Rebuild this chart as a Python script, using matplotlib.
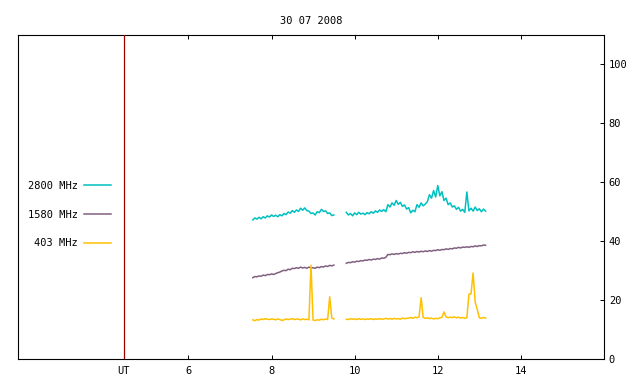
import numpy as np
import matplotlib
matplotlib.use("Agg")
import matplotlib.pyplot as plt

# =========================================================
# DATA
# =========================================================

title = "30 07 2008"
x_ticks = [6, 8, 10, 12, 14]
y_ticks = [0, 20, 40, 60, 80, 100]
ut_hour = 4.44

seg1_start, seg1_end = 7.55, 9.50
seg2_start, seg2_end = 9.80, 13.15

f2800_seg1 = [47.2, 47.9, 47.5, 48.1, 47.6, 48.3, 47.9, 48.6, 48.2, 48.9,
              48.4, 48.8, 48.3, 49.0, 48.6, 49.4, 49.0, 49.9, 49.5, 50.4,
              49.8, 50.6, 50.1, 51.2, 50.5, 51.3, 50.4, 50.2, 49.4, 49.6,
              48.9, 50.0, 49.7, 50.8, 50.1, 50.3, 49.4, 49.6, 48.7, 48.9]
f2800_seg2 = [49.8, 48.9, 49.4, 48.6, 49.6, 49.0, 49.8, 49.2, 49.5, 49.0,
              49.7, 49.3, 50.0, 49.5, 50.3, 49.8, 50.6, 50.1, 50.7, 50.0,
              52.4, 51.6, 53.0, 52.2, 53.8, 52.5, 53.2, 51.8, 52.3, 50.9,
              51.4, 49.6, 50.5, 50.0, 52.4, 51.5, 53.0, 52.0, 52.6, 53.4,
              55.8, 54.6, 57.2, 55.0, 58.9, 55.4, 56.8, 53.8, 54.6, 52.4,
              53.0, 51.6, 52.0, 50.8, 51.5, 50.2, 50.8, 49.8, 56.7, 50.3,
              51.2, 50.2, 51.6, 50.4, 51.0, 50.0, 50.9, 50.2]

f1580_seg1 = [27.6, 28.0, 27.9, 28.2, 28.1, 28.5, 28.3, 28.7, 28.6, 28.9,
              28.7, 29.0, 29.3, 29.5, 29.9, 30.1, 30.0, 30.5, 30.3, 30.8,
              30.7, 31.0, 30.8, 31.2, 30.9, 31.1, 30.8, 31.2, 30.9, 31.0,
              30.8, 31.2, 31.0, 31.4, 31.2, 31.6, 31.4, 31.8, 31.6, 31.9]
f1580_seg2 = [32.5, 32.8, 32.7, 33.0, 32.9, 33.2, 33.1, 33.4, 33.3, 33.6,
              33.5, 33.8, 33.6, 33.9, 33.8, 34.1, 33.9, 34.3, 34.2, 34.5,
              35.5, 35.4, 35.7, 35.5, 35.8, 35.6, 35.9, 35.8, 36.1, 35.9,
              36.2, 36.1, 36.4, 36.2, 36.5, 36.3, 36.6, 36.4, 36.7, 36.5,
              36.8, 36.6, 36.9, 36.8, 37.1, 36.9, 37.2, 37.1, 37.4, 37.2,
              37.5, 37.4, 37.7, 37.6, 37.9, 37.7, 38.0, 37.9, 38.1, 37.9,
              38.2, 38.1, 38.4, 38.2, 38.5, 38.4, 38.7, 38.6]

f403_seg1 = [13.3, 13.0, 13.4, 13.2, 13.6, 13.4, 13.7, 13.5, 13.4, 13.6,
             13.5, 13.3, 13.6, 13.4, 13.1, 13.3, 13.6, 13.4, 13.5, 13.7,
             13.4, 13.6, 13.5, 13.3, 13.6, 13.4, 13.5, 13.3, 31.8, 13.2,
             13.1, 13.3, 13.2, 13.5, 13.3, 13.6, 13.4, 21.1, 13.9, 13.6]
f403_seg2 = [13.5, 13.4, 13.7, 13.5, 13.6, 13.4, 13.7, 13.5, 13.6, 13.4,
             13.6, 13.5, 13.7, 13.4, 13.6, 13.5, 13.7, 13.5, 13.6, 13.8,
             13.6, 13.7, 13.5, 13.8, 13.6, 13.7, 13.5, 13.9, 13.7, 13.8,
             13.9, 14.1, 13.8, 14.2, 14.0, 14.3, 20.8, 14.1, 13.8, 14.0,
             13.7, 13.9, 13.6, 13.8, 13.7, 14.0, 14.1, 16.0, 14.3, 14.0,
             14.2, 14.1, 14.3, 14.0, 14.2, 13.9, 14.1, 13.8, 14.0, 22.0,
             22.1, 29.2, 19.4, 16.8, 14.0, 13.8, 14.1, 13.9]

series = [
    ("2800 MHz", "#00c0c0", f2800_seg1, f2800_seg2),
    ("1580 MHz", "#806080", f1580_seg1, f1580_seg2),
    ("403 MHz", "#ffc000", f403_seg1, f403_seg2),
]

# =========================================================
# PLOT
# =========================================================

plt.rcParams["font.family"] = ["DejaVu Sans Mono"]
plt.rcParams["font.size"] = 7.5

fig = plt.figure(figsize=(6.4, 3.84), dpi=100)
ax = fig.add_axes([18 / 640, 1 - 359 / 384, 586 / 640, 324 / 384])

handles = []
for name, color, s1, s2 in series:
    t1 = np.linspace(seg1_start, seg1_end, len(s1))
    t2 = np.linspace(seg2_start, seg2_end, len(s2))
    h, = ax.plot(t1, s1, color=color, lw=1.1, label=name)
    ax.plot(t2, s2, color=color, lw=1.1)
    handles.append(h)

ax.axvline(ut_hour, color="#a00000", lw=0.9, zorder=5)

ax.set_xlim(1.9, 16.0)
ax.set_ylim(0, 110)

ax.set_xticks(x_ticks)
ax.set_xticklabels([str(v) for v in x_ticks])
ax.tick_params(axis="x", direction="in", top=True, bottom=True,
               length=3.2, width=0.7, pad=5)

ax.yaxis.tick_right()
ax.set_yticks(y_ticks)
ax.tick_params(axis="y", direction="in", left=False, right=True,
               length=3.2, width=0.7, pad=3.5)

for sp in ax.spines.values():
    sp.set_linewidth(0.8)

ax.text(ut_hour, -0.021, "UT", transform=ax.get_xaxis_transform(),
        ha="center", va="top")

ax.set_title(title, pad=8, fontsize=7.5)

ax.legend(handles=handles, loc="upper right",
          bbox_to_anchor=(0.159, 0.550), frameon=False,
          markerfirst=False, borderpad=0, borderaxespad=0,
          handlelength=2.6, handletextpad=0.6, labelspacing=1.8)

fig.savefig("out.png", dpi=100)
plt.close(fig)
